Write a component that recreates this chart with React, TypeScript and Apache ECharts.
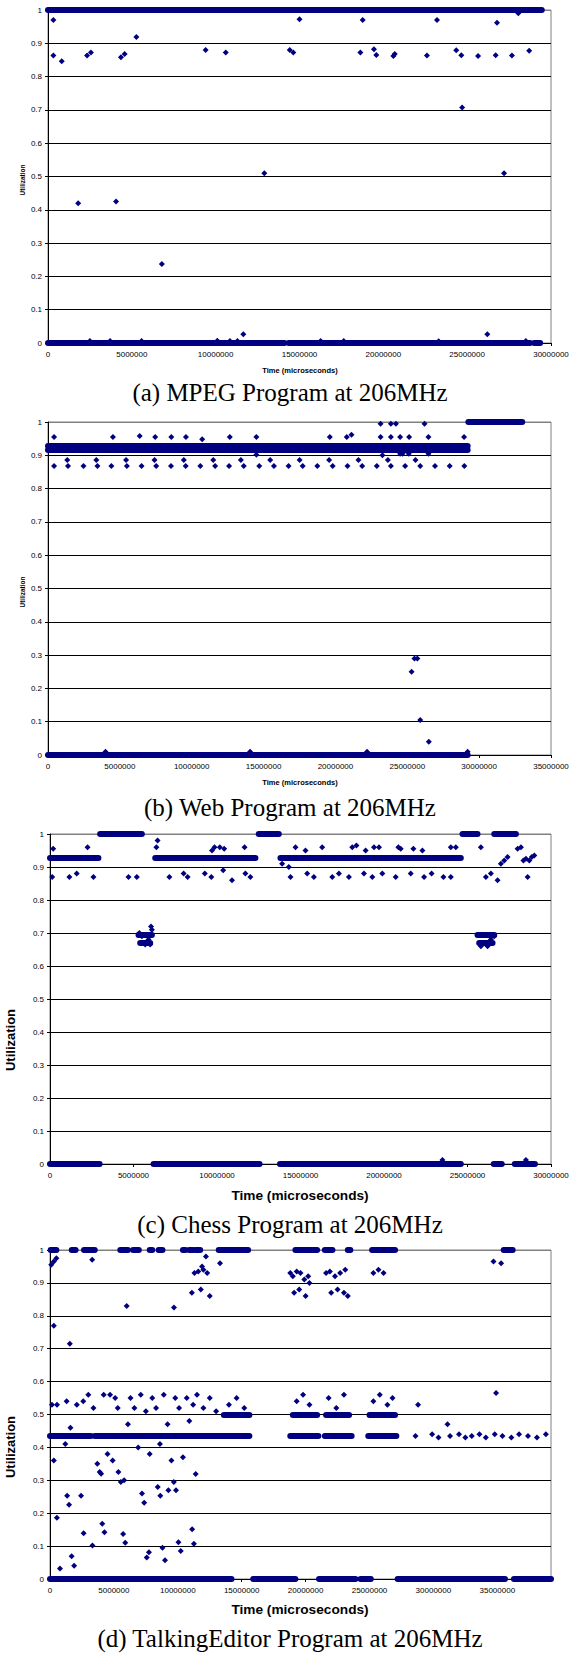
import React, { useEffect, useRef } from "react";
import * as echarts from "echarts";

const NAVY = "#000080";

// ---------- Panel (a) MPEG ----------
const aXMax = 30e6;
const aBandAt1 = [[0, 29.45e6]];
const aBandAt0 = [[0, 14.1e6], [14.35e6, 28.75e6], [29.0e6, 29.35e6]];
const aPoints = [
  [0.32e6, 0.97], [0.32e6, 0.863], [0.82e6, 0.846], [1.8e6, 0.42], [2.33e6, 0.863], [2.56e6, 0.872],
  [4.06e6, 0.425], [4.35e6, 0.858], [4.57e6, 0.868], [5.27e6, 0.919], [6.79e6, 0.237], [9.4e6, 0.88],
  [10.6e6, 0.872], [11.65e6, 0.026], [12.9e6, 0.51], [14.42e6, 0.88], [14.63e6, 0.872], [15.0e6, 0.972],
  [18.63e6, 0.872], [18.77e6, 0.97], [19.44e6, 0.882], [19.58e6, 0.865], [20.6e6, 0.862], [20.68e6, 0.868],
  [22.6e6, 0.863], [23.2e6, 0.97], [24.35e6, 0.879], [24.65e6, 0.864], [24.7e6, 0.707], [25.65e6, 0.862],
  [26.2e6, 0.026], [26.7e6, 0.864], [26.78e6, 0.962], [27.2e6, 0.51], [27.67e6, 0.863], [28.05e6, 0.99],
  [28.7e6, 0.878],
  [2.5e6, 0.006], [3.7e6, 0.006], [5.58e6, 0.006], [10.1e6, 0.007], [10.85e6, 0.006], [11.3e6, 0.006],
  [16.26e6, 0.006], [17.64e6, 0.006], [23.3e6, 0.005], [28.5e6, 0.006],
];

// ---------- Panel (b) Web ----------
const bXMax = 35e6;
const bBandAt1 = [[29.25e6, 33.0e6]];
const bBandAt093 = [[0, 29.2e6]];
const bBandAt0918 = [[0, 29.2e6]];
const bBandAt0 = [[0, 29.2e6]];
const bPoints = [
  [0.42e6, 0.955], [4.52e6, 0.955], [6.38e6, 0.958], [7.46e6, 0.955], [8.58e6, 0.955], [9.6e6, 0.955],
  [10.73e6, 0.948], [12.65e6, 0.955], [14.5e6, 0.955], [19.61e6, 0.955], [20.79e6, 0.955], [21.12e6, 0.962],
  [23.14e6, 0.955], [23.86e6, 0.955], [24.5e6, 0.955], [25.13e6, 0.955], [26.47e6, 0.955], [28.95e6, 0.955],
  [23.14e6, 0.995], [23.86e6, 0.995], [24.21e6, 0.995], [26.2e6, 0.995],
  [14.5e6, 0.902], [23.27e6, 0.9], [24.5e6, 0.905], [24.67e6, 0.905], [25.1e6, 0.905], [26.47e6, 0.905],
  [1.34e6, 0.886], [3.36e6, 0.886], [5.43e6, 0.886], [7.41e6, 0.886], [9.45e6, 0.886], [11.5e6, 0.886],
  [13.42e6, 0.886], [15.46e6, 0.886], [17.51e6, 0.886], [19.56e6, 0.886], [21.6e6, 0.886], [23.65e6, 0.886],
  [25.57e6, 0.886],
  [0.42e6, 0.868], [1.39e6, 0.868], [2.47e6, 0.868], [3.44e6, 0.868], [4.41e6, 0.868], [5.49e6, 0.868],
  [6.51e6, 0.868], [7.53e6, 0.868], [8.56e6, 0.868], [9.58e6, 0.868], [10.6e6, 0.868], [11.63e6, 0.868],
  [12.6e6, 0.868], [13.62e6, 0.868], [14.7e6, 0.868], [15.72e6, 0.868], [16.74e6, 0.868], [17.72e6, 0.868],
  [18.74e6, 0.868], [19.81e6, 0.868], [20.84e6, 0.868], [21.86e6, 0.868], [22.88e6, 0.868], [23.86e6, 0.868],
  [24.85e6, 0.868], [25.9e6, 0.868], [26.93e6, 0.868], [27.95e6, 0.868], [28.97e6, 0.868],
  [25.3e6, 0.25], [25.5e6, 0.29], [25.7e6, 0.29], [25.9e6, 0.105], [26.5e6, 0.04],
  [4.0e6, 0.01], [14.06e6, 0.01], [22.2e6, 0.01], [29.2e6, 0.01],
];

// ---------- Panel (c) Chess ----------
const cXMax = 30e6;
const cBandAt1 = [[3.0e6, 5.5e6], [12.5e6, 13.7e6], [24.7e6, 25.6e6], [26.6e6, 27.9e6]];
const cBandAt093 = [[0, 2.9e6], [6.3e6, 12.3e6], [13.8e6, 24.6e6]];
const cBandAt0695 = [[5.3e6, 6.1e6], [25.6e6, 26.6e6]];
const cBandAt067 = [[5.4e6, 6.0e6], [25.7e6, 26.5e6]];
const cBandAt0 = [[0, 2.97e6], [6.2e6, 12.55e6], [13.77e6, 24.6e6], [26.57e6, 27.05e6], [27.83e6, 29.04e6]];
const cPoints = [
  [0.19e6, 0.955], [0.13e6, 0.87], [1.16e6, 0.87], [1.6e6, 0.88], [2.25e6, 0.96], [2.6e6, 0.87],
  [4.7e6, 0.87], [5.2e6, 0.87], [6.37e6, 0.96], [6.44e6, 0.98],
  [5.35e6, 0.7], [5.5e6, 0.69], [5.7e6, 0.665], [5.9e6, 0.68], [6.05e6, 0.72], [6.1e6, 0.71], [5.45e6, 0.67], [6.0e6, 0.665],
  [7.15e6, 0.87], [8.0e6, 0.88], [8.24e6, 0.87], [9.7e6, 0.95], [9.85e6, 0.96], [9.27e6, 0.88], [9.66e6, 0.87],
  [10.17e6, 0.96], [10.43e6, 0.955], [10.37e6, 0.89], [10.9e6, 0.86], [11.7e6, 0.88], [12.0e6, 0.87], [11.65e6, 0.96],
  [13.9e6, 0.91], [14.3e6, 0.9], [14.4e6, 0.87], [14.7e6, 0.96], [15.3e6, 0.95], [15.4e6, 0.88], [15.8e6, 0.87],
  [16.3e6, 0.96], [16.9e6, 0.87], [17.3e6, 0.88], [17.9e6, 0.87], [18.1e6, 0.96], [18.35e6, 0.965], [18.9e6, 0.95],
  [18.8e6, 0.88], [19.3e6, 0.87], [19.4e6, 0.96], [19.7e6, 0.96], [19.9e6, 0.88], [20.7e6, 0.87], [20.86e6, 0.96],
  [21.0e6, 0.955], [21.6e6, 0.88], [21.76e6, 0.955], [22.4e6, 0.87], [22.3e6, 0.95], [22.85e6, 0.88], [23.56e6, 0.87],
  [24.0e6, 0.96], [24.0e6, 0.87], [24.3e6, 0.96],
  [25.65e6, 0.695], [25.9e6, 0.67], [26.2e6, 0.66], [26.4e6, 0.68], [26.6e6, 0.69], [25.8e6, 0.66],
  [25.8e6, 0.96], [26.1e6, 0.87], [26.4e6, 0.88], [26.8e6, 0.86], [27.0e6, 0.91], [27.2e6, 0.92], [27.4e6, 0.93],
  [28.0e6, 0.955], [28.2e6, 0.96], [28.35e6, 0.92], [28.5e6, 0.925], [28.6e6, 0.87], [28.7e6, 0.92], [28.85e6, 0.93],
  [29.0e6, 0.935],
  [23.5e6, 0.012], [28.5e6, 0.012],
];

// ---------- Panel (d) TalkingEditor ----------
const dXMax = 39.2e6;
const dBandAt1 = [
  [0.05e6, 0.5e6], [1.7e6, 2.0e6], [2.66e6, 3.5e6], [5.5e6, 6.1e6], [6.5e6, 6.95e6], [7.8e6, 8.0e6],
  [8.5e6, 8.8e6], [10.4e6, 10.6e6], [10.9e6, 11.2e6], [11.4e6, 11.75e6], [13.2e6, 15.5e6], [19.2e6, 20.9e6],
  [21.5e6, 22.1e6], [23.3e6, 23.5e6], [25.2e6, 27.0e6], [35.5e6, 36.2e6],
];
const dBandAt05 = [[13.6e6, 15.6e6], [19.0e6, 20.9e6], [21.6e6, 23.4e6], [25.0e6, 27.0e6]];
const dBandAt0435 = [[0, 3.2e6], [3.5e6, 15.6e6], [18.8e6, 21.0e6], [21.5e6, 23.6e6], [24.9e6, 27.1e6]];
const dBandAt0 = [[0, 14.2e6], [15.9e6, 19.2e6], [21.05e6, 23.9e6], [24.3e6, 25.1e6], [27.2e6, 35.6e6], [36.3e6, 39.2e6]];
const dPoints = [
  // upper
  [0.1e6, 0.955], [0.3e6, 0.965], [0.5e6, 0.975], [0.3e6, 0.77], [1.55e6, 0.715], [3.3e6, 0.97], [6.0e6, 0.83],
  [9.7e6, 0.825], [11.1e6, 0.87], [11.3e6, 0.93], [11.6e6, 0.935], [11.8e6, 0.88], [11.9e6, 0.95], [12.0e6, 0.94],
  [12.2e6, 0.98], [12.3e6, 0.93], [12.5e6, 0.86], [13.3e6, 0.96],
  [18.8e6, 0.93], [19.0e6, 0.92], [19.1e6, 0.87], [19.3e6, 0.935], [19.5e6, 0.88], [19.6e6, 0.93], [19.9e6, 0.91],
  [20.0e6, 0.86], [20.2e6, 0.92], [20.3e6, 0.9],
  [21.6e6, 0.93], [21.9e6, 0.935], [22.0e6, 0.87], [22.3e6, 0.92], [22.5e6, 0.88], [22.7e6, 0.93], [23.0e6, 0.87],
  [23.1e6, 0.94], [23.3e6, 0.86], [25.3e6, 0.93], [25.7e6, 0.94], [26.1e6, 0.93], [34.7e6, 0.965], [35.3e6, 0.96],
  // middle
  [0.15e6, 0.53], [0.3e6, 0.36], [0.55e6, 0.53], [1.2e6, 0.41], [1.3e6, 0.54], [1.6e6, 0.46], [2.1e6, 0.53],
  [2.6e6, 0.54], [3.0e6, 0.56], [3.4e6, 0.52], [3.7e6, 0.35], [4.0e6, 0.32], [4.2e6, 0.56], [4.5e6, 0.38],
  [4.7e6, 0.56], [4.9e6, 0.36], [5.1e6, 0.55], [5.3e6, 0.52], [5.8e6, 0.3], [6.1e6, 0.47], [6.3e6, 0.55],
  [6.6e6, 0.52], [6.9e6, 0.4], [7.1e6, 0.56], [7.5e6, 0.51], [7.8e6, 0.38], [8.0e6, 0.55], [8.3e6, 0.52],
  [8.6e6, 0.41], [8.9e6, 0.56], [9.2e6, 0.47], [9.5e6, 0.36], [9.8e6, 0.55], [10.1e6, 0.52], [10.4e6, 0.37],
  [10.7e6, 0.55], [10.9e6, 0.48], [11.2e6, 0.53], [11.5e6, 0.56], [12.0e6, 0.52], [12.5e6, 0.55], [13.0e6, 0.51],
  [14.0e6, 0.53], [14.6e6, 0.55], [15.2e6, 0.52], [19.3e6, 0.54], [19.8e6, 0.56], [20.3e6, 0.53], [21.8e6, 0.55],
  [22.4e6, 0.52], [23.0e6, 0.56], [25.3e6, 0.54], [25.8e6, 0.56], [26.4e6, 0.53], [26.8e6, 0.55], [28.8e6, 0.53],
  [31.1e6, 0.47], [34.9e6, 0.565],
  [28.6e6, 0.435], [29.9e6, 0.44], [30.4e6, 0.43], [31.3e6, 0.435], [32.0e6, 0.44], [32.5e6, 0.43], [33.0e6, 0.435],
  [33.6e6, 0.44], [34.1e6, 0.43], [34.8e6, 0.44], [35.4e6, 0.435], [36.1e6, 0.43], [36.7e6, 0.44], [37.4e6, 0.435],
  [38.1e6, 0.43], [38.8e6, 0.44],
  // lower
  [0.54e6, 0.186], [0.78e6, 0.032], [1.34e6, 0.253], [1.49e6, 0.226], [1.69e6, 0.069], [1.89e6, 0.04],
  [2.43e6, 0.253], [2.63e6, 0.139], [3.32e6, 0.102], [3.89e6, 0.325], [4.09e6, 0.168], [4.26e6, 0.142],
  [5.35e6, 0.325], [5.54e6, 0.295], [5.72e6, 0.137], [5.89e6, 0.11], [7.2e6, 0.26], [7.37e6, 0.232],
  [7.57e6, 0.065], [7.74e6, 0.081], [8.43e6, 0.28], [8.63e6, 0.253], [8.8e6, 0.095], [9.0e6, 0.057],
  [9.26e6, 0.27], [9.69e6, 0.295], [9.86e6, 0.27], [10.05e6, 0.112], [10.23e6, 0.085], [11.12e6, 0.151],
  [11.26e6, 0.107], [11.4e6, 0.319],
];

const CAPTIONS = [
  "(a) MPEG Program at 206MHz",
  "(b) Web Program at 206MHz",
  "(c) Chess Program at 206MHz",
  "(d) TalkingEditor Program at 206MHz",
];
const X_TITLE = "Time (microseconds)";
const Y_TITLE = "Utilization";

const GRIDS = [
  { left: 48, top: 10, width: 503, height: 333 },
  { left: 48, top: 422, width: 503, height: 333 },
  { left: 50, top: 834, width: 501, height: 330 },
  { left: 50, top: 1250, width: 501, height: 329 },
];
const X_MAX = [aXMax, bXMax, cXMax, dXMax];

type Span = number[];
function bandsToLines(level: number, spans: Span[]) {
  return spans.map(([s, e]) => ({ coords: [[s, level], [e, level]] }));
}

const PANEL_BANDS: { level: number; spans: Span[] }[][] = [
  [{ level: 1, spans: aBandAt1 }, { level: 0, spans: aBandAt0 }],
  [
    { level: 1, spans: bBandAt1 },
    { level: 0.93, spans: bBandAt093 },
    { level: 0.918, spans: bBandAt0918 },
    { level: 0, spans: bBandAt0 },
  ],
  [
    { level: 1, spans: cBandAt1 },
    { level: 0.928, spans: cBandAt093 },
    { level: 0.695, spans: cBandAt0695 },
    { level: 0.67, spans: cBandAt067 },
    { level: 0, spans: cBandAt0 },
  ],
  [
    { level: 1, spans: dBandAt1 },
    { level: 0.5, spans: dBandAt05 },
    { level: 0.435, spans: dBandAt0435 },
    { level: 0, spans: dBandAt0 },
  ],
];
const PANEL_POINTS = [aPoints, bPoints, cPoints, dPoints];

const splitColors = ["#000", "#000", "#000", "#000", "#000", "#000", "#000", "#000", "#000", "#000", "#808080"];

function buildOption() {
  const font = "Liberation Sans";
  const grid = GRIDS.map((g) => ({
    ...g,
    show: true,
    borderColor: "#808080",
    borderWidth: 1,
    backgroundColor: "transparent",
    containLabel: false,
  }));
  const xAxis = X_MAX.map((max, i) => ({
    type: "value",
    gridIndex: i,
    min: 0,
    max,
    interval: 5e6,
    axisLine: { show: true, onZero: false, lineStyle: { color: "#000", width: 1 } },
    axisTick: { show: true, length: 3, lineStyle: { color: "#000" } },
    axisLabel: {
      fontSize: 8,
      color: "#000",
      fontFamily: font,
      margin: 7,
      showMaxLabel: i !== 3,
      formatter: (v: number) => String(Math.round(v)),
    },
    splitLine: { show: false },
  }));
  const yAxis = X_MAX.map((_, i) => ({
    type: "value",
    gridIndex: i,
    min: 0,
    max: 1,
    interval: 0.1,
    axisLine: { show: true, onZero: false, lineStyle: { color: "#000", width: 1 } },
    axisTick: { show: true, length: 3, lineStyle: { color: "#000" } },
    axisLabel: {
      fontSize: 8,
      color: "#000",
      fontFamily: font,
      margin: 6,
      formatter: (v: number) => String(Math.round(v * 10) / 10),
    },
    splitLine: { show: true, lineStyle: { color: splitColors, width: 1 } },
  }));
  const series: any[] = [];
  PANEL_BANDS.forEach((bands, i) => {
    series.push({
      type: "lines",
      coordinateSystem: "cartesian2d",
      xAxisIndex: i,
      yAxisIndex: i,
      clip: false,
      silent: true,
      lineStyle: { color: NAVY, width: 6, opacity: 1, cap: "round" },
      data: bands.flatMap((b) => bandsToLines(b.level, b.spans)),
    });
    series.push({
      type: "scatter",
      xAxisIndex: i,
      yAxisIndex: i,
      clip: false,
      silent: true,
      symbol: "diamond",
      symbolSize: 6,
      itemStyle: { color: NAVY, opacity: 1 },
      data: PANEL_POINTS[i],
    });
  });

  const captionY = [392, 807, 1224, 1638];
  const xTitleY = [371, 783, 1196, 1610];
  const yTitlePos = [
    [22, 180],
    [22, 592],
    [10.5, 1040],
    [10.5, 1447],
  ];
  const small = [true, true, false, false];
  const graphic: any[] = [];
  for (let i = 0; i < 4; i++) {
    graphic.push({
      type: "text",
      x: 290,
      y: captionY[i],
      style: {
        text: CAPTIONS[i],
        fill: "#000",
        fontFamily: "'Liberation Serif', 'Times New Roman', serif",
        fontSize: 25,
        textAlign: "center",
        textVerticalAlign: "middle",
      },
    });
    graphic.push({
      type: "text",
      x: 300,
      y: xTitleY[i],
      scaleX: 1.14,
      style: {
        text: X_TITLE,
        fill: "#000",
        fontFamily: font,
        fontWeight: "bold",
        fontSize: small[i] ? 6.6 : 12,
        textAlign: "center",
        textVerticalAlign: "middle",
      },
    });
    graphic.push({
      type: "text",
      x: yTitlePos[i][0],
      y: yTitlePos[i][1],
      rotation: Math.PI / 2,
      style: {
        text: Y_TITLE,
        fill: "#000",
        fontFamily: font,
        fontWeight: "bold",
        fontSize: small[i] ? 6.5 : 13,
        textAlign: "center",
        textVerticalAlign: "middle",
      },
    });
  }

  return {
    animation: false,
    backgroundColor: "#fff",
    grid,
    xAxis,
    yAxis,
    series,
    graphic: { elements: graphic },
  };
}

export default function App() {
  const ref = useRef<HTMLDivElement>(null);
  useEffect(() => {
    document.body.style.margin = "0";
    const chart = echarts.init(ref.current as HTMLDivElement, null, { renderer: "svg" });
    chart.setOption(buildOption() as any);
    return () => {
      chart.dispose();
    };
  }, []);
  return <div ref={ref} style={{ width: 573, height: 1655 }} />;
}
